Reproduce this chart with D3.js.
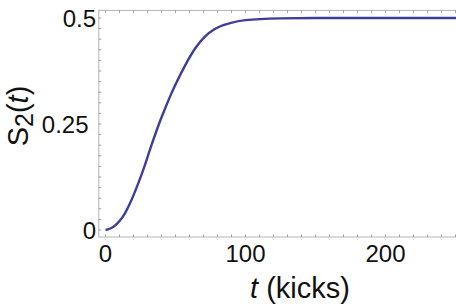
<!DOCTYPE html>
<html>
<head>
    <script src="https://d3js.org/d3.v7.min.js"></script>
    <style>
        body { margin: 0; background: white; }
        text { font-family: "Liberation Sans", Arial, sans-serif; fill: #111; }
    </style>
</head>
<body>
<div id="chart"></div>
<script>
    // curve: t (kicks) vs S2(t)
    const tValues = [0, 3, 7, 10, 14, 17.5, 21, 25, 28, 32, 36, 39, 43, 46, 50, 57, 64, 71, 78, 89, 100, 125, 150, 200, 255];
    const sValues = [0, 0.003, 0.011, 0.021, 0.040, 0.063, 0.090, 0.124, 0.152, 0.192, 0.230, 0.257, 0.290, 0.314, 0.343, 0.389, 0.428, 0.456, 0.474, 0.488, 0.495, 0.499, 0.5, 0.5, 0.5];
    const xTickLabels = [0, 100, 200];
    const yTickLabels = [0, 0.25, 0.5];
    const xMinorTicks = d3.range(0, 260, 10);
    const yMinorTicks = d3.range(0, 0.52, 0.025);

    const width = 456, height = 307;
    const svg = d3.select("#chart").append("svg")
        .attr("width", width).attr("height", height);

    const x = d3.scaleLinear().domain([0, 200]).range([105.5, 385.5]);
    const y = d3.scaleLinear().domain([0, 0.5]).range([230, 18]);

    const frameL = x(-4.8), frameR = x(255), frameT = y(0.518), frameB = y(-0.0165);
    const frameColor = "#b4b4b4";

    // frame
    svg.append("rect")
        .attr("x", frameL).attr("y", frameT)
        .attr("width", frameR - frameL).attr("height", frameB - frameT)
        .attr("fill", "none").attr("stroke", frameColor).attr("stroke-width", 1);

    // small inward ticks on all sides
    const tk = svg.append("g").attr("stroke", "#a0a0a0").attr("stroke-width", 1);
    xMinorTicks.forEach(t => {
        tk.append("line").attr("x1", x(t)).attr("x2", x(t)).attr("y1", frameB).attr("y2", frameB - 2.5);
        tk.append("line").attr("x1", x(t)).attr("x2", x(t)).attr("y1", frameT).attr("y2", frameT + 2.5);
    });
    yMinorTicks.forEach(v => {
        tk.append("line").attr("x1", frameL).attr("x2", frameL + 2.5).attr("y1", y(v)).attr("y2", y(v));
    });

    // tick labels
    svg.append("g").selectAll("text").data(xTickLabels).enter().append("text")
        .attr("x", d => x(d)).attr("y", 262)
        .attr("text-anchor", "middle").attr("font-size", 24)
        .text(d => d);

    svg.append("g").selectAll("text").data(yTickLabels).enter().append("text")
        .attr("x", d => d === 0.25 ? 88.5 : 96)
        .attr("y", d => y(d) + 8.5)
        .attr("text-anchor", "end").attr("font-size", 24)
        .text(d => d);

    // curve
    const pts = tValues.map((t, i) => [t, sValues[i]]);
    svg.append("path")
        .datum(pts)
        .attr("fill", "none")
        .attr("stroke", "#3d3d9c")
        .attr("stroke-width", 2.4)
        .attr("d", d3.line().x(d => x(d[0])).y(d => y(d[1])).curve(d3.curveMonotoneX));

    // axis titles
    const xt = svg.append("text")
        .attr("x", 300).attr("y", 298)
        .attr("text-anchor", "middle").attr("font-size", 29);
    xt.append("tspan").attr("font-style", "italic").text("t");
    xt.append("tspan").text(" (kicks)");

    const yt = svg.append("text")
        .attr("transform", "translate(28,116) rotate(-90)")
        .attr("text-anchor", "middle").attr("font-size", 29);
    yt.append("tspan").text("S");
    yt.append("tspan").attr("dy", 5).attr("font-size", 25).text("2");
    yt.append("tspan").attr("dy", -5).text("(");
    yt.append("tspan").attr("font-style", "italic").text("t");
    yt.append("tspan").text(")");
</script>
</body>
</html>
